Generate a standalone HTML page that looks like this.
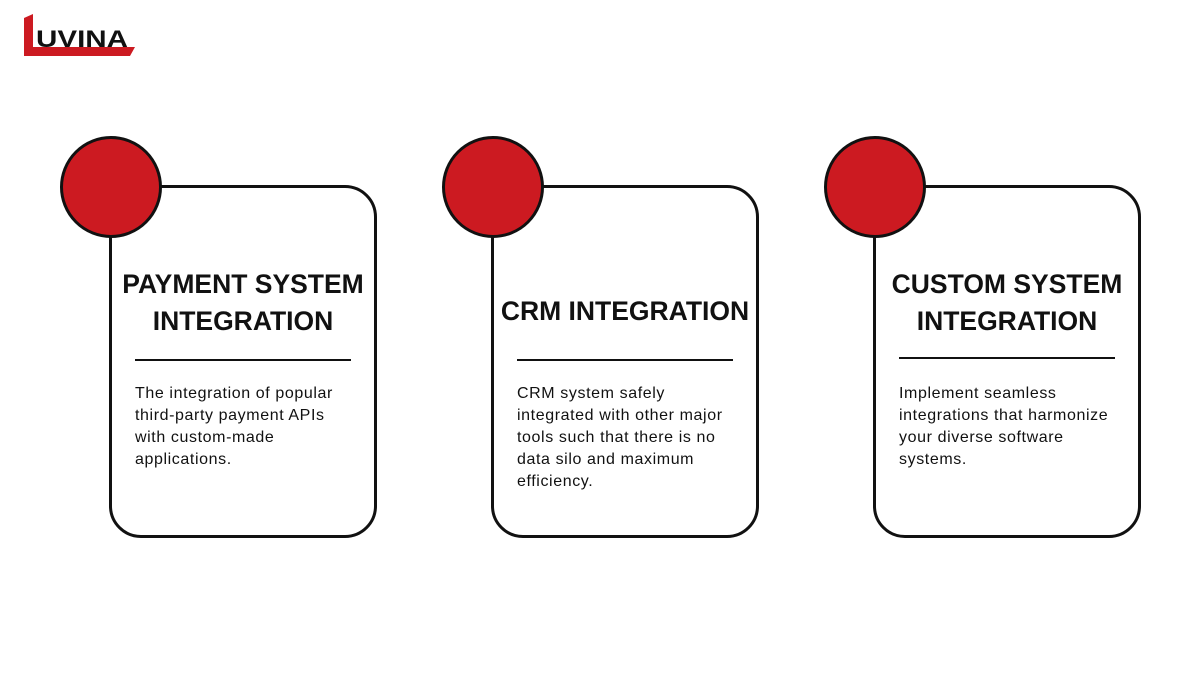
<!DOCTYPE html>
<html><head><style>
body{margin:0;width:1200px;height:675px;background:#fff;position:relative;overflow:hidden;font-family:"Liberation Sans",sans-serif}
.card{position:absolute;top:185px;width:268px;height:353px;border:3px solid #111;border-radius:32px;box-sizing:border-box}
.circ{position:absolute;top:136px;width:102px;height:102px;border-radius:50%;background:#cc1a21;border:3px solid #111;box-sizing:border-box}
.t{position:absolute;width:270px;text-align:center;font-weight:bold;font-size:26.5px;line-height:37px;color:#111;white-space:nowrap}
.hr{position:absolute;top:359px;width:216px;height:2px;background:#111}
.b{position:absolute;top:383px;width:240px;font-size:16px;letter-spacing:0.6px;line-height:22px;color:#111;white-space:nowrap}
</style></head><body>
<svg style="position:absolute;left:0;top:0" width="160" height="70">
<polygon points="24,18 33,14 33,47 135,47 130,56 24,56" fill="#cc1a21"/>
<text x="36" y="47" font-family="Liberation Sans" font-weight="bold" font-size="24" fill="#111" textLength="92" lengthAdjust="spacingAndGlyphs">UVINA</text>
</svg>

<div class="card" style="left:109px"></div><div class="circ" style="left:60px"></div>
<div class="t" style="left:108px;top:266px">PAYMENT SYSTEM<br>INTEGRATION</div>
<div class="hr" style="left:135px"></div>
<div class="b" style="left:135px">The integration of popular<br>third-party payment APIs<br>with custom-made<br>applications.</div>

<div class="card" style="left:491px"></div><div class="circ" style="left:442px"></div>
<div class="t" style="left:490px;top:293px">CRM INTEGRATION</div>
<div class="hr" style="left:517px"></div>
<div class="b" style="left:517px">CRM system safely<br>integrated with other major<br>tools such that there is no<br>data silo and maximum<br>efficiency.</div>

<div class="card" style="left:873px"></div><div class="circ" style="left:824px"></div>
<div class="t" style="left:872px;top:266px">CUSTOM SYSTEM<br>INTEGRATION</div>
<div class="hr" style="left:899px;top:357px"></div>
<div class="b" style="left:899px">Implement seamless<br>integrations that harmonize<br>your diverse software<br>systems.</div>
</body></html>
